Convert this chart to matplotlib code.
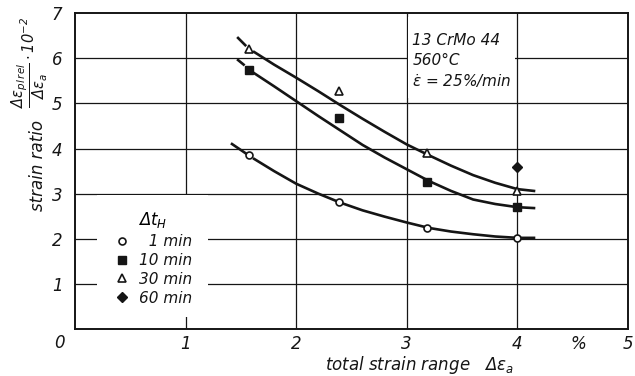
import matplotlib.pyplot as plt
from matplotlib.patches import Rectangle

# measured points (total strain range %, strain ratio 1e-2)
x_meas = [1.57, 2.39, 3.18, 4.0]
y_1min = [3.85, 2.81, 2.24, 2.02]
y_10min = [5.74, 4.68, 3.26, 2.70]
y_30min = [6.20, 5.27, 3.90, 3.06]
x_60min = [4.0]
y_60min = [3.60]

# hand drawn fit curves
curve_x = [1.62, 1.8, 2.0, 2.2, 2.4, 2.6, 2.8, 3.0, 3.2, 3.4, 3.6, 3.8, 4.0, 4.15]
curve_1min = [3.77, 3.50, 3.22, 3.00, 2.80, 2.63, 2.49, 2.36, 2.24, 2.16, 2.10, 2.05, 2.02, 2.02]
curve_10min = [5.67, 5.38, 5.05, 4.72, 4.40, 4.08, 3.80, 3.54, 3.28, 3.06, 2.87, 2.77, 2.70, 2.68]
curve_30min = [6.14, 5.86, 5.57, 5.27, 4.96, 4.66, 4.37, 4.09, 3.85, 3.62, 3.41, 3.24, 3.10, 3.06]
# start of curves left of first point
lead_1min_x, lead_1min_y = [1.42, 1.57], [4.10, 3.85]
lead_10min_x, lead_10min_y = [1.475, 1.525], [5.96, 5.86]
lead_30min_x, lead_30min_y = [1.475, 1.54], [6.45, 6.29]

xticks = [1, 2, 3, 4, 4.55, 5]
xticklabels = ['1', '2', '3', '4', '%', '5']
yticks = [1, 2, 3, 4, 5, 6, 7]

ink = '#151515'
plt.rcParams['font.family'] = 'DejaVu Sans'
plt.rcParams['font.style'] = 'italic'
plt.rcParams['mathtext.fontset'] = 'dejavusans'
plt.rcParams['mathtext.default'] = 'it'

fig = plt.figure(figsize=(6.35, 3.76), dpi=100)
ax = fig.add_axes([0.118, 0.125, 0.871, 0.840])
ax.set_xlim(0, 5)
ax.set_ylim(0, 7)

ax.set_xticks(xticks)
ax.set_xticklabels(xticklabels, fontsize=12, color=ink)
ax.set_yticks(yticks)
ax.set_yticklabels([str(v) for v in yticks], fontsize=12, color=ink)
ax.tick_params(length=0, pad=4)
ax.tick_params(axis='y', pad=9)
for xv in [1, 2, 3, 4]:
    ax.axvline(xv, color=ink, lw=0.9, zorder=1.2)
for yv in [1, 2, 3, 4, 5, 6]:
    ax.axhline(yv, color=ink, lw=0.9, zorder=1.2)
for s in ax.spines.values():
    s.set_color(ink)
    s.set_linewidth(1.4)

# white areas behind legend and note
ax.add_patch(Rectangle((0.2, 0.26), 1.0, 2.72, facecolor='white', edgecolor='none', zorder=1.5))
ax.add_patch(Rectangle((3.01, 5.12), 0.97, 1.8, facecolor='white', edgecolor='none', zorder=1.5))

for cy in [curve_1min, curve_10min, curve_30min]:
    ax.plot(curve_x, cy, color=ink, lw=1.9, zorder=3)
ax.plot(lead_1min_x, lead_1min_y, color=ink, lw=1.9, zorder=3)
ax.plot(lead_10min_x, lead_10min_y, color=ink, lw=1.9, zorder=3)
ax.plot(lead_30min_x, lead_30min_y, color=ink, lw=1.9, zorder=3)

ax.plot(x_meas, y_1min, 'o', ms=5, mfc='white', mec=ink, mew=1.2, ls='none', zorder=4, label='\u20071 min')
ax.plot(x_meas, y_10min, 's', ms=6, mfc=ink, mec=ink, ls='none', zorder=4, label='10 min')
ax.plot(x_meas, y_30min, '^', ms=6, mfc='white', mec=ink, mew=1.2, ls='none', zorder=4, label='30 min')
ax.plot(x_60min, y_60min, 'D', ms=5.5, mfc=ink, mec=ink, ls='none', zorder=4, label='60 min')

leg = ax.legend(loc='upper left', bbox_to_anchor=(0.06, 0.395), frameon=False,
                title=r'$\Delta t_H$', fontsize=11, title_fontsize=12,
                handletextpad=0.6, labelspacing=0.25, handlelength=1.0, borderaxespad=0)
for t in leg.get_texts():
    t.set_color(ink)

ax.text(3.05, 6.55, '13 CrMo 44\n560\u00b0C\n' + r'$\dot{\varepsilon}$ = 25%/min', fontsize=11,
        color=ink, va='top', ha='left', linespacing=1.35, zorder=5)

ax.annotate('0', xy=(0, 0), xytext=(-11, -10), textcoords='offset points', fontsize=12,
            color=ink, ha='center', va='center', annotation_clip=False)

fig.text(0.66, 0.028, r'total strain range   $\Delta\varepsilon_a$', fontsize=12, color=ink,
         ha='center', va='center')
fig.text(0.06, 0.56, 'strain ratio', fontsize=12, color=ink, rotation=90, ha='center', va='center')
fig.text(0.047, 0.835, r'$\dfrac{\Delta\varepsilon_{pl\,rel}}{\Delta\varepsilon_a}\cdot10^{-2}$',
         fontsize=10.5, color=ink, rotation=90, ha='center', va='center')

fig.savefig('out.png', dpi=100, facecolor='white')
